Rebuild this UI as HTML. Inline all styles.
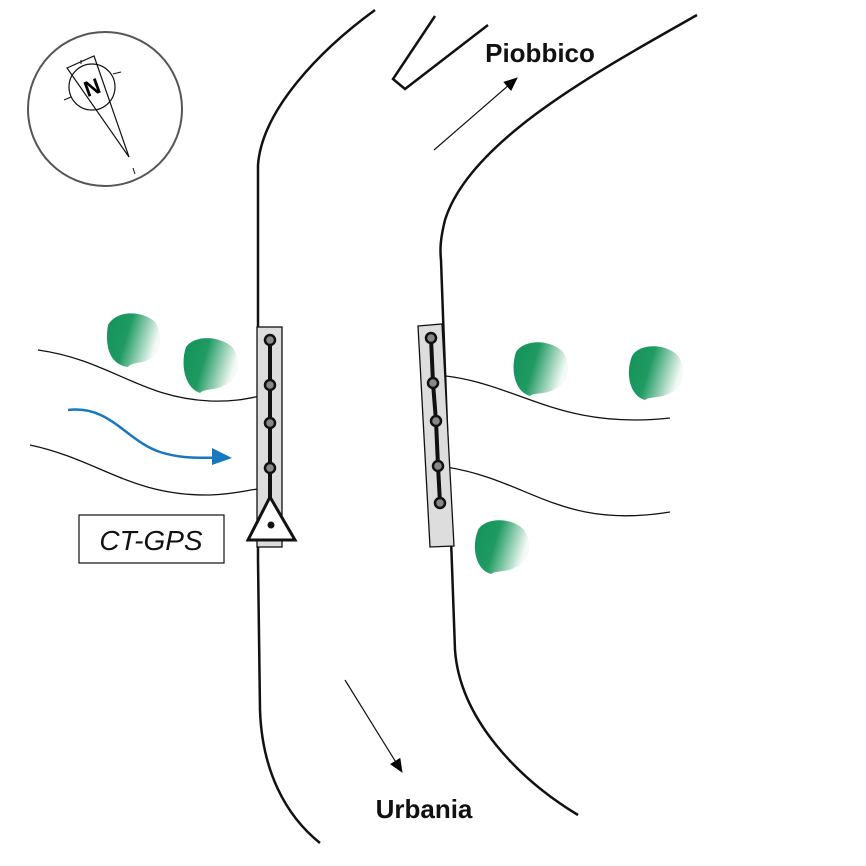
<!DOCTYPE html>
<html><head><style>body{margin:0;background:#fff}svg{display:block}</style></head><body>
<svg width="866" height="866" viewBox="0 0 866 866" xmlns="http://www.w3.org/2000/svg">
<defs>
<linearGradient id="g" x1="0" y1="0" x2="1" y2="0.3">
<stop offset="0" stop-color="#12925a"/><stop offset="0.45" stop-color="#1f9a62"/><stop offset="1" stop-color="#f4faf6"/>
</linearGradient>
<marker id="ah" markerWidth="14" markerHeight="12" refX="13" refY="6" orient="auto" markerUnits="userSpaceOnUse"><path d="M0,0 L14,6 L0,12 z" fill="#000"/></marker>
</defs>
<!-- compass -->
<circle cx="105" cy="109" r="77" fill="none" stroke="#555" stroke-width="2"/>
<circle cx="92" cy="87" r="23" fill="none" stroke="#111" stroke-width="1.2"/>
<path d="M67,68 L94,56 L129,157 Z" fill="none" stroke="#111" stroke-width="1.2"/>
<line x1="113" y1="74" x2="121" y2="72" stroke="#111"/><line x1="64" y1="100" x2="71" y2="97" stroke="#111"/>
<line x1="81" y1="60" x2="81" y2="64" stroke="#111"/><line x1="133" y1="168" x2="135" y2="174" stroke="#111"/>
<text x="92" y="95" font-family="Liberation Sans, sans-serif" font-weight="bold" font-size="22" text-anchor="middle" transform="rotate(-20 92 87)">N</text>
<!-- roads -->
<g fill="none" stroke="#111" stroke-width="2.5">
<path d="M375,10 C320,50 262,110 258,165 L258,560 L260,710 C262,770 285,815 320,843"/>
<path d="M697,15 C600,70 470,140 445,220 C440,240 440,250 441,260 L455,650 C460,720 520,780 578,815"/>
<path d="M435,16 L393,79 L405,89 L488,25"/>
</g>
<!-- streams -->
<g fill="none" stroke="#111" stroke-width="1.3">
<path d="M38,350 C110,360 140,398 210,401 C235,402 250,398 260,396"/>
<path d="M30,445 C100,460 130,496 210,495 C235,494 248,490 258,489"/>
<path d="M446,376 C520,385 560,430 670,418"/>
<path d="M446,467 C530,480 560,530 670,512"/>
</g>
<!-- flow arrow -->
<path d="M68,410 C110,405 125,440 160,452 C185,460 205,457 220,458" fill="none" stroke="#1777c0" stroke-width="2.5"/>
<path d="M212,448 L232,458 L212,465 Z" fill="#1777c0"/>
<!-- bushes -->
<g fill="url(#g)">
<path d="M108,325 C118,308 145,312 155,322 C165,335 160,355 148,360 C140,364 132,362 128,367 C112,365 104,350 108,325 Z"/>
<path d="M186,347 C195,334 222,336 233,348 C242,362 238,380 225,385 C215,391 205,388 200,393 C185,388 180,365 186,347 Z"/>
<path d="M516,352 C525,338 552,340 563,352 C572,366 568,384 555,389 C545,395 535,392 530,396 C515,392 510,370 516,352 Z"/>
<path d="M632,356 C640,342 668,344 678,356 C688,370 683,388 670,393 C660,399 650,396 645,400 C630,396 625,374 632,356 Z"/>
<path d="M478,530 C486,516 514,518 524,530 C534,544 529,562 516,567 C506,573 496,570 491,574 C476,570 471,548 478,530 Z"/>
</g>
<!-- left bar -->
<rect x="257" y="327" width="25" height="220" fill="#ddd" stroke="#111" stroke-width="1.3"/>
<line x1="270" y1="340" x2="270" y2="505" stroke="#111" stroke-width="4"/>
<g fill="#888" stroke="#111" stroke-width="2.5">
<circle cx="270" cy="340" r="5"/><circle cx="270" cy="385" r="5"/><circle cx="270" cy="423" r="5"/><circle cx="270" cy="468" r="5"/>
</g>
<path d="M270,497 L295,540 L248,540 Z" fill="#fff" stroke="#111" stroke-width="3"/>
<circle cx="271" cy="525" r="3.5" fill="#111"/>
<!-- right bar -->
<path d="M418,326 L442,324 L454,546 L430,547 Z" fill="#ddd" stroke="#111" stroke-width="1.3"/>
<path d="M431,338 L433,383 L436,421 L438,466 L440,503" fill="none" stroke="#111" stroke-width="4"/>
<g fill="#888" stroke="#111" stroke-width="2.5">
<circle cx="431" cy="338" r="5"/><circle cx="433" cy="383" r="5"/><circle cx="436" cy="421" r="5"/><circle cx="438" cy="466" r="5"/><circle cx="440" cy="503" r="5"/>
</g>
<!-- label box -->
<rect x="79" y="515" width="145" height="48" fill="#fff" stroke="#111" stroke-width="1.2"/>
<text x="151" y="550" font-family="Liberation Sans, sans-serif" font-style="italic" font-size="28" text-anchor="middle" fill="#111">CT-GPS</text>
<!-- direction arrows -->
<line x1="434" y1="150" x2="517" y2="78" stroke="#111" stroke-width="1.2" marker-end="url(#ah)"/>
<line x1="345" y1="680" x2="402" y2="772" stroke="#111" stroke-width="1.2" marker-end="url(#ah)"/>
<text x="540" y="62" font-family="Liberation Sans, sans-serif" font-weight="bold" font-size="26" text-anchor="middle" fill="#111">Piobbico</text>
<text x="424" y="818" font-family="Liberation Sans, sans-serif" font-weight="bold" font-size="26" text-anchor="middle" fill="#111">Urbania</text>
</svg>
</body></html>
